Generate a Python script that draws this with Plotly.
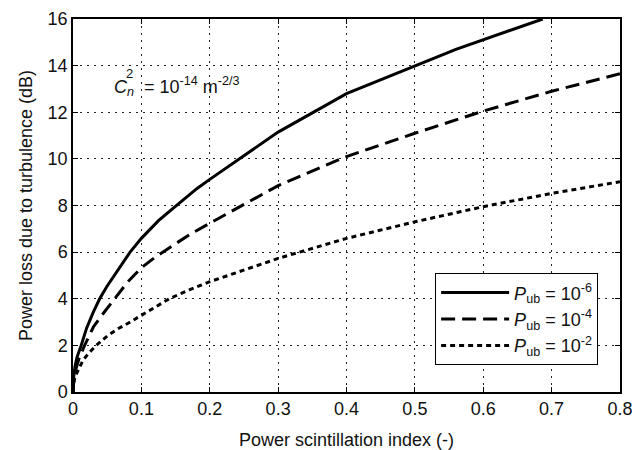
import plotly.graph_objects as go

# Power loss vs. power scintillation index for three bit-error probabilities
x_pub6 = [0, 0.001, 0.003, 0.006, 0.012, 0.02, 0.03, 0.039, 0.05, 0.065, 0.0835, 0.1,
          0.125, 0.152, 0.181, 0.2, 0.3, 0.4, 0.56, 0.687]
y_pub6 = [0, 0.65, 1.1, 1.5, 2.0, 2.75, 3.45, 4.0, 4.55, 5.2, 6.0, 6.59,
          7.35, 8.02, 8.72, 9.12, 11.15, 12.8, 14.7, 16.0]

x_pub4 = [0, 0.001, 0.004, 0.009, 0.017, 0.03, 0.045, 0.0615, 0.08, 0.1, 0.12, 0.14,
          0.17, 0.2, 0.3, 0.4, 0.5, 0.6, 0.7, 0.8]
y_pub4 = [0, 0.45, 0.95, 1.45, 2.0, 2.8, 3.4, 4.0, 4.72, 5.33, 5.78, 6.17,
          6.74, 7.24, 8.85, 10.1, 11.1, 12.05, 12.9, 13.65]

x_pub2 = [0, 0.001, 0.003, 0.0073, 0.0147, 0.024, 0.034, 0.05, 0.065, 0.0806, 0.1, 0.12,
          0.142, 0.17, 0.2, 0.3, 0.4, 0.5, 0.6, 0.7, 0.8]
y_pub2 = [0, 0.35, 0.65, 0.94, 1.37, 1.7, 2.0, 2.4, 2.7, 2.95, 3.3, 3.65,
          4.02, 4.38, 4.73, 5.73, 6.59, 7.3, 7.95, 8.52, 9.02]

series_names = [
    "<i>P</i><sub>ub</sub> = 10<sup>-6</sup>",
    "<i>P</i><sub>ub</sub> = 10<sup>-4</sup>",
    "<i>P</i><sub>ub</sub> = 10<sup>-2</sup>",
]

x_ticks = [0, 0.1, 0.2, 0.3, 0.4, 0.5, 0.6, 0.7, 0.8]
x_tick_text = ["0", "0.1", "0.2", "0.3", "0.4", "0.5", "0.6", "0.7", "0.8"]
y_ticks = [0, 2, 4, 6, 8, 10, 12, 14, 16]

FONT = "Arial, Liberation Sans, sans-serif"
INK = "#111111"
FS = 18

fig = go.Figure()
fig.add_trace(go.Scatter(x=x_pub6, y=y_pub6, mode="lines", name=series_names[0],
                         line=dict(color="black", width=3, dash="solid")))
fig.add_trace(go.Scatter(x=x_pub4, y=y_pub4, mode="lines", name=series_names[1],
                         line=dict(color="black", width=3, dash="14px,7px")))
fig.add_trace(go.Scatter(x=x_pub2, y=y_pub2, mode="lines", name=series_names[2],
                         line=dict(color="black", width=3, dash="5px,4px")))

axis_common = dict(
    showline=True, linecolor="black", linewidth=1.5, mirror="ticks",
    ticks="inside", ticklen=5, tickwidth=1, tickcolor="black",
    showgrid=True, gridcolor="#222222", gridwidth=1.3, griddash="1.5px,5.5px",
    zeroline=False, automargin=False, ticklabeloverflow="allow",
    tickfont=dict(family=FONT, size=FS, color=INK),
)

fig.update_xaxes(range=[0, 0.8], tickvals=x_ticks, ticktext=x_tick_text,
                 title=dict(text="Power scintillation index (-)", standoff=16,
                            font=dict(family=FONT, size=FS, color=INK)),
                 **axis_common)
fig.update_yaxes(range=[0, 16], tickvals=y_ticks,
                 title=dict(text="Power loss due to turbulence (dB)", standoff=10,
                            font=dict(family=FONT, size=FS, color=INK)),
                 **axis_common)

# Turbulence strength label
fig.add_annotation(x=0.057, y=13.1, xref="x", yref="y", xanchor="left", yanchor="middle",
                   text="<i>C</i><sub><i>n</i></sub>  = 10<sup>-14</sup> m<sup>-2/3</sup>",
                   showarrow=False, font=dict(family=FONT, size=FS, color=INK))
fig.add_annotation(x=0.074, y=13.65, xref="x", yref="y", xanchor="left", yanchor="middle",
                   text="2", showarrow=False, font=dict(family=FONT, size=13, color=INK))

fig.update_layout(
    width=632, height=450,
    margin=dict(l=73, r=12, t=19, b=58),
    plot_bgcolor="white", paper_bgcolor="white",
    showlegend=True,
    legend=dict(x=0.96, y=0.318, xanchor="right", yanchor="top",
                bgcolor="white", bordercolor="black", borderwidth=1,
                font=dict(family=FONT, size=FS, color=INK),
                tracegroupgap=0, itemwidth=68),
)

fig.write_html("out.html")
